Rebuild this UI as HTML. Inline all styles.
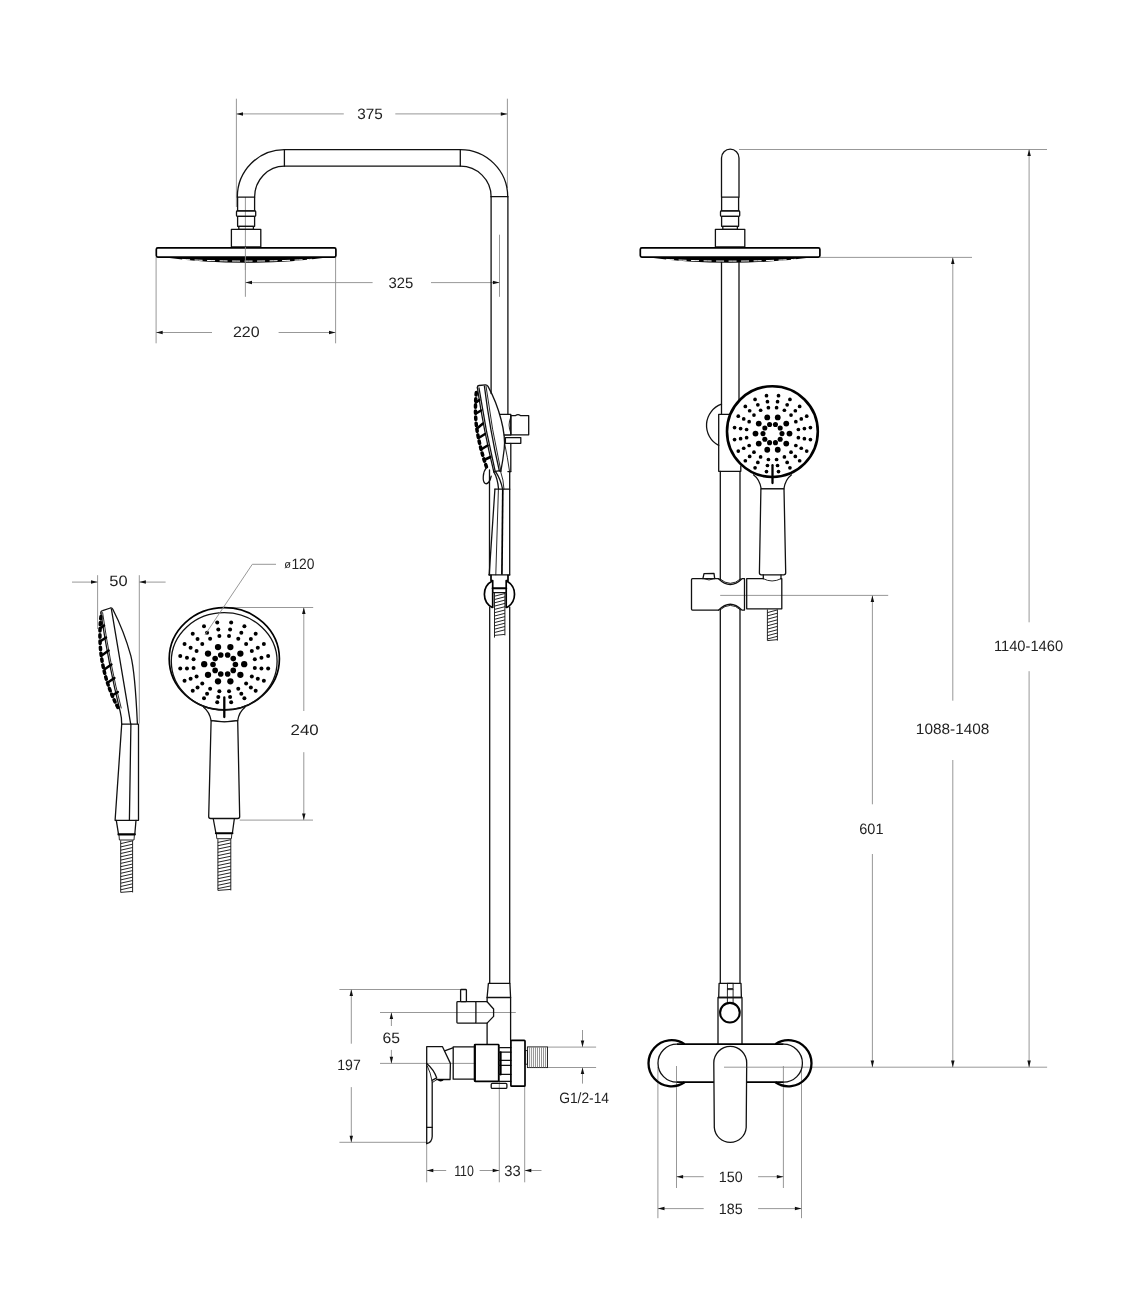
<!DOCTYPE html>
<html><head><meta charset="utf-8"><title>Shower column dimensions</title>
<style>
html,body{margin:0;padding:0;background:#fff}
svg{display:block;will-change:transform;transform:translateZ(0)}
text{font-family:"Liberation Sans",sans-serif;font-size:15px;fill:#222;text-rendering:geometricPrecision}
.o{fill:none;stroke:#111;stroke-width:1.3;stroke-linejoin:round;stroke-linecap:round}
.w{fill:#fff;stroke:#111;stroke-width:1.3;stroke-linejoin:round}
.k{fill:none;stroke:#000;stroke-width:2.1;stroke-linejoin:round;stroke-linecap:round}
.kw{fill:#fff;stroke:#000;stroke-width:2.1;stroke-linejoin:round}
.n{fill:none;stroke:#111;stroke-width:0.9;stroke-linecap:round}
.h{fill:none;stroke:#1a1a1a;stroke-width:0.95}
.d{fill:none;stroke:#8c8c8c;stroke-width:0.9}
.a{fill:#111;stroke:none}
.p{fill:#000;stroke:none}
.hd{fill:#fff;stroke:#000;stroke-width:2.6}
.bar{fill:none;stroke:#000;stroke-width:2.3;stroke-linecap:round}
.k2{fill:none;stroke:#000;stroke-width:2.3;stroke-linecap:butt}
.nz{fill:none;stroke:#fff;stroke-width:1;stroke-dasharray:8 4.5;stroke-dashoffset:-2;stroke-linecap:butt}
.mw{fill:#fff;stroke:#000;stroke-width:1.7;stroke-linejoin:round}
.nb{fill:none;stroke:#000;stroke-width:3.5;stroke-dasharray:2.4 3.7;stroke-linecap:round;stroke-linejoin:round}
.nt{fill:none;stroke:#000;stroke-width:2.5;stroke-linecap:round}
.m{fill:none;stroke:#000;stroke-width:1.7;stroke-linejoin:round}
.th{fill:none;stroke:#777;stroke-width:0.8}
</style></head>
<body>
<svg width="1147" height="1300" viewBox="0 0 1147 1300">
<rect x="0" y="0" width="1147" height="1300" fill="#fff"/>
<line class="d" x1="236.4" y1="98.7" x2="236.4" y2="207"/>
<line class="d" x1="507.4" y1="98.7" x2="507.4" y2="188"/>
<line class="d" x1="236.4" y1="113.9" x2="343.8" y2="113.9"/>
<line class="d" x1="395.3" y1="113.9" x2="507.4" y2="113.9"/>
<polygon class="a" points="236.4,113.9 243,112.15 243,115.65"/>
<polygon class="a" points="507.4,113.9 500.8,112.15 500.8,115.65"/>
<text x="370.03" y="119.2" text-anchor="middle" textLength="25.53" lengthAdjust="spacingAndGlyphs">375</text>
<line class="d" x1="245.4" y1="197" x2="245.4" y2="296.8"/>
<line class="d" x1="499.5" y1="234.7" x2="499.5" y2="296.8"/>
<line class="d" x1="245.4" y1="282.6" x2="372.6" y2="282.6"/>
<line class="d" x1="431" y1="282.6" x2="499.5" y2="282.6"/>
<polygon class="a" points="245.4,282.6 252,280.85 252,284.35"/>
<polygon class="a" points="499.5,282.6 492.9,280.85 492.9,284.35"/>
<text x="400.98" y="287.7" text-anchor="middle" textLength="24.79" lengthAdjust="spacingAndGlyphs">325</text>
<line class="d" x1="156.1" y1="257" x2="156.1" y2="343.3"/>
<line class="d" x1="335.6" y1="257" x2="335.6" y2="343.3"/>
<line class="d" x1="156.1" y1="332.5" x2="212" y2="332.5"/>
<line class="d" x1="278.6" y1="332.5" x2="335.6" y2="332.5"/>
<polygon class="a" points="156.1,332.5 162.7,330.75 162.7,334.25"/>
<polygon class="a" points="335.6,332.5 329,330.75 329,334.25"/>
<text x="246.31" y="336.9" text-anchor="middle" textLength="26.73" lengthAdjust="spacingAndGlyphs">220</text>
<path class="o" d="M237.3 197.2 A47.1 47.6 0 0 1 284.4 149.6 L460.3 149.6 A47.4 47.1 0 0 1 507.7 196.7"/>
<path class="o" d="M254.6 197.2 A29.8 31 0 0 1 284.4 166.2 L460.3 166.2 A30.8 30.5 0 0 1 491.1 196.7"/>
<line class="o" x1="284.4" y1="149.6" x2="284.4" y2="166.2"/>
<line class="o" x1="460.3" y1="149.6" x2="460.3" y2="166.2"/>
<line class="o" x1="491.1" y1="196.7" x2="507.7" y2="196.7"/>
<rect class="o" x="237.6" y="197.2" width="17" height="13.7"/>
<rect class="o" x="236.5" y="210.9" width="19.2" height="5.5" rx="0.8"/>
<rect class="o" x="237.6" y="216.4" width="17" height="9.9"/>
<rect class="o" x="238.8" y="226.3" width="14.6" height="3"/>
<rect class="o" x="231.4" y="229.3" width="29.4" height="17.7"/>
<path class="p" d="M163.1 257.2 Q246.1 268.4 329.1 257.2 Z"/>
<path class="nz" d="M180.1 259.3 Q246.1 262.9 312.1 259.3"/>
<rect class="mw" x="156.3" y="247.9" width="179.6" height="9.2" rx="1.5"/>
<line class="d" x1="245.4" y1="247" x2="245.4" y2="270"/>
<line class="o" x1="491.1" y1="196.7" x2="491.1" y2="393.6"/>
<line class="o" x1="507.9" y1="196.7" x2="507.9" y2="414.3"/>
<path class="o" d="M499.7 414.3 L510.8 414.3 L510.8 435 L504.2 435"/>
<path class="n" d="M510.8 417 Q507.2 425 510.8 433"/>
<path class="o" d="M510.8 415.6 L515.6 415.6 Q518 413.6 520.4 415.6 L528.7 415.6 L528.7 434.8 L510.8 434.8 Z"/>
<rect class="o" x="505.4" y="437.6" width="15.4" height="5.7"/>
<line class="o" x1="510.8" y1="443.3" x2="510.8" y2="471.6"/>
<path class="n" d="M504.6 443.3 Q507.5 457 509.6 471.6"/>
<line class="o" x1="507.9" y1="471.6" x2="510.8" y2="471.6"/>
<path class="o" d="M477.3 387.6 Q477.2 385.7 479 385.5 L485.4 384.9 Q487 384.8 488 386.4 Q496.6 402 501.2 420 Q505.6 437 504.2 449 Q503 460 500.8 471.3"/>
<path class="o" d="M477.4 388 Q483.6 430 493.8 471.8"/>
<path class="o" d="M479 388 Q485.4 430 495.3 471.8"/>
<path class="o" d="M484.4 386.2 Q489.8 430 499.4 471.2"/>
<path class="n" d="M486 386 Q491.8 430 500.9 471.2"/>
<path class="nb" d="M476.3 392.6 C475 405 475.3 418 476.7 428 C478.6 441 482.2 455 486.8 467.8"/>
<line class="nt" x1="476" y1="402.5" x2="479.3" y2="400"/>
<line class="nt" x1="476" y1="413.5" x2="481" y2="410.5"/>
<line class="nt" x1="477" y1="428.5" x2="483" y2="423.5"/>
<line class="nt" x1="478.6" y1="438" x2="485" y2="434"/>
<line class="nt" x1="481" y1="449.5" x2="487.6" y2="445.5"/>
<line class="nt" x1="484" y1="460" x2="490.4" y2="457"/>
<path class="o" d="M486.6 467.4 C482.6 472 482.2 481.6 485.2 483.5 C487.8 484.8 490.4 480.6 491.2 476.2"/>
<path class="o" d="M493.8 471.6 L500.2 470.6"/>
<path class="o" d="M493.8 471.8 Q497.6 478 498.6 489.2"/>
<path class="o" d="M495.6 471.6 Q500.6 479 502.6 489.2"/>
<path class="n" d="M500.6 471.4 Q503.6 480 504 489.2"/>
<line class="o" x1="494.9" y1="489.2" x2="509.7" y2="489.2"/>
<line class="o" x1="489.5" y1="470" x2="489.5" y2="575"/>
<line class="o" x1="509.7" y1="471.6" x2="509.7" y2="575"/>
<line class="o" x1="494.9" y1="489.2" x2="489.2" y2="574.8"/>
<line class="n" x1="498.4" y1="489.2" x2="495.8" y2="574.8"/>
<path class="m" d="M502.8 489.2 L501.9 574.8"/>
<line class="o" x1="488.8" y1="574.8" x2="509.7" y2="574.8"/>
<path class="m" d="M492.7 580.7 A15.2 15.2 0 0 0 492.7 607.8 M506.2 580.7 A15.2 15.2 0 0 1 506.2 607.8"/>
<path class="m" d="M491 574.8 L491 580.6 L492.7 580.6 L492.7 608 M508 574.8 L508 580.6 L506.2 580.6 L506.2 608"/>
<line class="k" x1="492.7" y1="588.3" x2="506.2" y2="588.3"/>
<line class="o" x1="492.7" y1="592.6" x2="506.2" y2="592.6"/>
<line class="h" x1="494.5" y1="593" x2="494.5" y2="635.4"/>
<line class="h" x1="504.9" y1="593" x2="504.9" y2="635.4"/>
<line class="h" x1="494.5" y1="596.2" x2="504.9" y2="593.5"/>
<line class="h" x1="494.5" y1="599.5" x2="504.9" y2="596.8"/>
<line class="h" x1="494.5" y1="602.8" x2="504.9" y2="600.1"/>
<line class="h" x1="494.5" y1="606.1" x2="504.9" y2="603.4"/>
<line class="h" x1="494.5" y1="609.4" x2="504.9" y2="606.7"/>
<line class="h" x1="494.5" y1="612.7" x2="504.9" y2="610"/>
<line class="h" x1="494.5" y1="616" x2="504.9" y2="613.3"/>
<line class="h" x1="494.5" y1="619.3" x2="504.9" y2="616.6"/>
<line class="h" x1="494.5" y1="622.6" x2="504.9" y2="619.9"/>
<line class="h" x1="494.5" y1="625.9" x2="504.9" y2="623.2"/>
<line class="h" x1="494.5" y1="629.2" x2="504.9" y2="626.5"/>
<line class="h" x1="494.5" y1="632.5" x2="504.9" y2="629.8"/>
<line class="h" x1="494.5" y1="635.4" x2="504.9" y2="634.4"/>
<line class="h" x1="494.5" y1="635" x2="494.5" y2="637.6"/>
<line class="o" x1="489.7" y1="607" x2="489.7" y2="983.3"/>
<line class="o" x1="509.7" y1="607" x2="509.7" y2="983.3"/>
<line class="d" x1="339.4" y1="989.5" x2="460.6" y2="989.5"/>
<line class="d" x1="339.4" y1="1142.3" x2="426.7" y2="1142.3"/>
<line class="d" x1="351.3" y1="989.5" x2="351.3" y2="1043.7"/>
<line class="d" x1="351.3" y1="1087.1" x2="351.3" y2="1142.3"/>
<polygon class="a" points="351.3,989.5 349.55,996.1 353.05,996.1"/>
<polygon class="a" points="351.3,1142.3 349.55,1135.7 353.05,1135.7"/>
<text x="349.02" y="1070.3" text-anchor="middle" textLength="23.48" lengthAdjust="spacingAndGlyphs">197</text>
<line class="d" x1="380" y1="1012.5" x2="515.8" y2="1012.5"/>
<line class="d" x1="380" y1="1063.4" x2="476" y2="1063.4"/>
<line class="d" x1="391.4" y1="1012.5" x2="391.4" y2="1026"/>
<polygon class="a" points="391.4,1012.5 389.65,1019.1 393.15,1019.1"/>
<line class="d" x1="391.4" y1="1049.9" x2="391.4" y2="1063.4"/>
<polygon class="a" points="391.4,1063.4 389.65,1056.8 393.15,1056.8"/>
<text x="391.18" y="1043.4" text-anchor="middle" textLength="17.46" lengthAdjust="spacingAndGlyphs">65</text>
<line class="d" x1="426.7" y1="1143.5" x2="426.7" y2="1182.3"/>
<line class="d" x1="499.3" y1="1045" x2="499.3" y2="1182.3"/>
<line class="d" x1="524.7" y1="1086.2" x2="524.7" y2="1182.3"/>
<line class="d" x1="426.7" y1="1170.5" x2="446.2" y2="1170.5"/>
<polygon class="a" points="426.7,1170.5 433.3,1168.75 433.3,1172.25"/>
<line class="d" x1="479.6" y1="1170.5" x2="499.3" y2="1170.5"/>
<polygon class="a" points="499.3,1170.5 492.7,1168.75 492.7,1172.25"/>
<text x="464.03" y="1175.9" text-anchor="middle" textLength="19.77" lengthAdjust="spacingAndGlyphs">110</text>
<text x="512.49" y="1175.9" text-anchor="middle" textLength="16.41" lengthAdjust="spacingAndGlyphs">33</text>
<line class="d" x1="524.7" y1="1170.5" x2="541.5" y2="1170.5"/>
<polygon class="a" points="524.7,1170.5 531.3,1168.75 531.3,1172.25"/>
<line class="d" x1="547.5" y1="1047.1" x2="596.1" y2="1047.1"/>
<line class="d" x1="547.5" y1="1067.5" x2="596.1" y2="1067.5"/>
<line class="d" x1="582.5" y1="1030" x2="582.5" y2="1047.1"/>
<polygon class="a" points="582.5,1047.1 580.75,1040.5 584.25,1040.5"/>
<line class="d" x1="582.5" y1="1067.5" x2="582.5" y2="1083.6"/>
<polygon class="a" points="582.5,1067.5 580.75,1074.1 584.25,1074.1"/>
<text x="584.11" y="1102.6" text-anchor="middle" textLength="49.9" lengthAdjust="spacingAndGlyphs">G1/2-14</text>
<path class="o" d="M488.4 983.3 L509.9 983.3 L510.6 997.5 L487.1 997.5 Z"/>
<path class="o" d="M487.1 997.5 L487.1 1001.7 M487.1 1023.1 L487.1 1044.4 M510.6 997.5 L510.6 1040.4"/>
<rect class="o" x="456.9" y="1001.7" width="19" height="21.4" rx="0.8"/>
<path class="o" d="M475.9 1001.7 L487.1 1001.7 L493.6 1009 L493.6 1016.4 L487.1 1023.1 L475.9 1023.1"/>
<rect class="o" x="460.6" y="989.5" width="5.8" height="12.2" rx="0.8"/>
<rect class="m" x="474.6" y="1044.5" width="24.1" height="36.8" rx="0.6"/>
<rect class="o" x="453.2" y="1046.9" width="21.4" height="32.3"/>
<line class="m" x1="475" y1="1045" x2="475" y2="1081"/>
<line class="o" x1="498.7" y1="1047.6" x2="510.9" y2="1047.6"/>
<line class="o" x1="498.7" y1="1052.2" x2="510.9" y2="1052.2"/>
<line class="o" x1="498.7" y1="1060.4" x2="510.9" y2="1060.4"/>
<line class="o" x1="498.7" y1="1065.4" x2="510.9" y2="1065.4"/>
<line class="o" x1="498.7" y1="1074.4" x2="510.9" y2="1074.4"/>
<line class="k" x1="500.6" y1="1052.2" x2="500.6" y2="1074.4"/>
<line class="o" x1="498.7" y1="1081.3" x2="510.9" y2="1081.3"/>
<rect class="m" x="510.9" y="1040.4" width="14.1" height="45.8" rx="0.8"/>
<rect class="n" x="525" y="1050.6" width="2.4" height="13.6"/>
<rect class="n" x="527.4" y="1046.9" width="20.1" height="20.7"/>
<line class="th" x1="529.4" y1="1047.2" x2="529.4" y2="1067.4"/>
<line class="th" x1="531.42" y1="1047.2" x2="531.42" y2="1067.4"/>
<line class="th" x1="533.44" y1="1047.2" x2="533.44" y2="1067.4"/>
<line class="th" x1="535.46" y1="1047.2" x2="535.46" y2="1067.4"/>
<line class="th" x1="537.48" y1="1047.2" x2="537.48" y2="1067.4"/>
<line class="th" x1="539.5" y1="1047.2" x2="539.5" y2="1067.4"/>
<line class="th" x1="541.52" y1="1047.2" x2="541.52" y2="1067.4"/>
<line class="th" x1="543.54" y1="1047.2" x2="543.54" y2="1067.4"/>
<line class="th" x1="545.56" y1="1047.2" x2="545.56" y2="1067.4"/>
<rect class="o" x="491.2" y="1083.3" width="15.7" height="5.1" rx="1.2"/>
<path class="o" d="M426.7 1143.5 L426.7 1046.7 L442.5 1046.7 L450.4 1063.4 L450.1 1079.5 L436.7 1079.5"/>
<path class="o" d="M444.6 1050.9 L452.8 1047.8"/>
<path class="o" d="M426.7 1063.4 Q434 1069.6 436.7 1077.9 L432 1080.3 Q432.2 1081.4 432.2 1083 L432.2 1136.4 Q432 1142.4 426.7 1143.5"/>
<path class="n" d="M427.3 1066 Q430.8 1073 431.9 1080.4"/>
<path class="n" d="M436.7 1079.6 L432.6 1082.4"/>
<path class="p" d="M437 1079.2 Q440.6 1083.6 444.4 1079.2 Z"/>
<line class="o" x1="426.7" y1="1127.4" x2="432.2" y2="1127.4"/>
<line class="d" x1="739" y1="149.5" x2="1047" y2="149.5"/>
<line class="d" x1="819.8" y1="257.4" x2="972" y2="257.4"/>
<line class="d" x1="724" y1="1067.2" x2="1047.1" y2="1067.2"/>
<line class="d" x1="720.2" y1="595.4" x2="888.2" y2="595.4"/>
<line class="d" x1="872.4" y1="595.4" x2="872.4" y2="804.3"/>
<line class="d" x1="872.4" y1="854" x2="872.4" y2="1067.2"/>
<polygon class="a" points="872.4,595.4 870.65,602 874.15,602"/>
<polygon class="a" points="872.4,1067.2 870.65,1060.6 874.15,1060.6"/>
<text x="871.39" y="834.3" text-anchor="middle" textLength="24.14" lengthAdjust="spacingAndGlyphs">601</text>
<line class="d" x1="952.8" y1="257.4" x2="952.8" y2="700.7"/>
<line class="d" x1="952.8" y1="760" x2="952.8" y2="1067.2"/>
<polygon class="a" points="952.8,257.4 951.05,264 954.55,264"/>
<polygon class="a" points="952.8,1067.2 951.05,1060.6 954.55,1060.6"/>
<text x="952.65" y="733.9" text-anchor="middle" textLength="73.54" lengthAdjust="spacingAndGlyphs">1088-1408</text>
<line class="d" x1="1029.1" y1="149.5" x2="1029.1" y2="622.3"/>
<line class="d" x1="1029.1" y1="671.2" x2="1029.1" y2="1067.2"/>
<polygon class="a" points="1029.1,149.5 1027.35,156.1 1030.85,156.1"/>
<polygon class="a" points="1029.1,1067.2 1027.35,1060.6 1030.85,1060.6"/>
<text x="1028.53" y="651.3" text-anchor="middle" textLength="69.17" lengthAdjust="spacingAndGlyphs">1140-1460</text>
<line class="d" x1="676.5" y1="1066" x2="676.5" y2="1188"/>
<line class="d" x1="783.4" y1="1066" x2="783.4" y2="1188"/>
<line class="d" x1="657.9" y1="1067" x2="657.9" y2="1218.2"/>
<line class="d" x1="801.5" y1="1067" x2="801.5" y2="1218.2"/>
<line class="d" x1="676.5" y1="1176.7" x2="703.7" y2="1176.7"/>
<line class="d" x1="758.1" y1="1176.7" x2="783.4" y2="1176.7"/>
<polygon class="a" points="676.5,1176.7 683.1,1174.95 683.1,1178.45"/>
<polygon class="a" points="783.4,1176.7 776.8,1174.95 776.8,1178.45"/>
<text x="730.68" y="1182.15" text-anchor="middle" textLength="23.85" lengthAdjust="spacingAndGlyphs">150</text>
<line class="d" x1="657.9" y1="1208.6" x2="703.7" y2="1208.6"/>
<line class="d" x1="758.1" y1="1208.6" x2="801.5" y2="1208.6"/>
<polygon class="a" points="657.9,1208.6 664.5,1206.85 664.5,1210.35"/>
<polygon class="a" points="801.5,1208.6 794.9,1206.85 794.9,1210.35"/>
<text x="730.71" y="1213.7" text-anchor="middle" textLength="23.89" lengthAdjust="spacingAndGlyphs">185</text>
<path class="o" d="M721.5 197.2 L721.5 157.9 A8.75 8.75 0 0 1 739 157.9 L739 197.2"/>
<rect class="o" x="721.6" y="197.2" width="17" height="13.7"/>
<rect class="o" x="720.5" y="210.9" width="19.2" height="5.5" rx="0.8"/>
<rect class="o" x="721.6" y="216.4" width="17" height="9.9"/>
<rect class="o" x="722.8" y="226.3" width="14.6" height="3"/>
<rect class="o" x="715.4" y="229.3" width="29.4" height="17.7"/>
<path class="p" d="M647.1 257.2 Q730.1 268.4 813.1 257.2 Z"/>
<path class="nz" d="M664.1 259.3 Q730.1 262.9 796.1 259.3"/>
<rect class="mw" x="640.3" y="247.9" width="179.6" height="9.2" rx="1.5"/>
<line class="o" x1="721.5" y1="262.5" x2="721.5" y2="414.3"/>
<line class="o" x1="739" y1="262.5" x2="739" y2="414.3"/>
<path class="o" d="M721.5 404.2 A22.5 22.5 0 0 0 718.7 445.4"/>
<path class="o" d="M740.8 414.3 L718.7 414.3 L718.7 471.3 L740.8 471.3 L740.8 466"/>
<line class="o" x1="720.3" y1="471.3" x2="720.3" y2="579.5"/>
<line class="o" x1="740" y1="471.3" x2="740" y2="579.5"/>
<line class="o" x1="720.3" y1="609.5" x2="720.3" y2="983.3"/>
<line class="o" x1="740" y1="609.5" x2="740" y2="983.3"/>
<path class="w" d="M753.2 474.6 Q759.8 479.6 761.2 488.9 L783.9 488.9 Q785.2 479.6 791.8 474.6"/>
<path class="w" d="M760.9 488.9 L784 488.9 L785.7 572.8 Q785.7 574.8 783.7 574.8 L761.4 574.8 Q759.4 574.8 759.4 572.8 Z"/>
<circle class="hd" cx="772.4" cy="431.6" r="45.4"/>
<circle class="p" cx="782" cy="433.6" r="2.55"/>
<circle class="p" cx="780.19" cy="428.02" r="2.55"/>
<circle class="p" cx="775.44" cy="424.56" r="2.55"/>
<circle class="p" cx="769.56" cy="424.56" r="2.55"/>
<circle class="p" cx="764.81" cy="428.02" r="2.55"/>
<circle class="p" cx="763" cy="433.6" r="2.55"/>
<circle class="p" cx="764.81" cy="439.18" r="2.55"/>
<circle class="p" cx="769.56" cy="442.64" r="2.55"/>
<circle class="p" cx="775.44" cy="442.64" r="2.55"/>
<circle class="p" cx="780.19" cy="439.18" r="2.55"/>
<circle class="p" cx="789.5" cy="433.6" r="2.9"/>
<circle class="p" cx="786.25" cy="423.61" r="2.9"/>
<circle class="p" cx="777.75" cy="417.43" r="2.9"/>
<circle class="p" cx="767.25" cy="417.43" r="2.9"/>
<circle class="p" cx="758.75" cy="423.61" r="2.9"/>
<circle class="p" cx="755.5" cy="433.6" r="2.9"/>
<circle class="p" cx="758.75" cy="443.59" r="2.9"/>
<circle class="p" cx="767.25" cy="449.77" r="2.9"/>
<circle class="p" cx="777.75" cy="449.77" r="2.9"/>
<circle class="p" cx="786.25" cy="443.59" r="2.9"/>
<circle class="p" cx="798.38" cy="429.5" r="1.85"/>
<circle class="p" cx="795.84" cy="421.71" r="1.85"/>
<circle class="p" cx="791.03" cy="415.07" r="1.85"/>
<circle class="p" cx="784.39" cy="410.26" r="1.85"/>
<circle class="p" cx="776.6" cy="407.72" r="1.85"/>
<circle class="p" cx="768.4" cy="407.72" r="1.85"/>
<circle class="p" cx="760.61" cy="410.26" r="1.85"/>
<circle class="p" cx="753.97" cy="415.07" r="1.85"/>
<circle class="p" cx="749.16" cy="421.71" r="1.85"/>
<circle class="p" cx="746.62" cy="429.5" r="1.85"/>
<circle class="p" cx="746.62" cy="437.7" r="1.85"/>
<circle class="p" cx="749.16" cy="445.49" r="1.85"/>
<circle class="p" cx="753.97" cy="452.13" r="1.85"/>
<circle class="p" cx="760.61" cy="456.94" r="1.85"/>
<circle class="p" cx="768.4" cy="459.48" r="1.85"/>
<circle class="p" cx="776.6" cy="459.48" r="1.85"/>
<circle class="p" cx="784.39" cy="456.94" r="1.85"/>
<circle class="p" cx="791.03" cy="452.13" r="1.85"/>
<circle class="p" cx="795.84" cy="445.49" r="1.85"/>
<circle class="p" cx="798.38" cy="437.7" r="1.85"/>
<circle class="p" cx="804.4" cy="428.55" r="1.85"/>
<circle class="p" cx="801.28" cy="418.94" r="1.85"/>
<circle class="p" cx="795.34" cy="410.76" r="1.85"/>
<circle class="p" cx="787.16" cy="404.82" r="1.85"/>
<circle class="p" cx="777.55" cy="401.7" r="1.85"/>
<circle class="p" cx="767.45" cy="401.7" r="1.85"/>
<circle class="p" cx="757.84" cy="404.82" r="1.85"/>
<circle class="p" cx="749.66" cy="410.76" r="1.85"/>
<circle class="p" cx="743.72" cy="418.94" r="1.85"/>
<circle class="p" cx="740.6" cy="428.55" r="1.85"/>
<circle class="p" cx="740.6" cy="438.65" r="1.85"/>
<circle class="p" cx="743.72" cy="448.26" r="1.85"/>
<circle class="p" cx="749.66" cy="456.44" r="1.85"/>
<circle class="p" cx="757.84" cy="462.38" r="1.85"/>
<circle class="p" cx="767.45" cy="465.5" r="1.85"/>
<circle class="p" cx="777.55" cy="465.5" r="1.85"/>
<circle class="p" cx="787.16" cy="462.38" r="1.85"/>
<circle class="p" cx="795.34" cy="456.44" r="1.85"/>
<circle class="p" cx="801.28" cy="448.26" r="1.85"/>
<circle class="p" cx="804.4" cy="438.65" r="1.85"/>
<circle class="p" cx="810.43" cy="427.59" r="1.85"/>
<circle class="p" cx="806.71" cy="416.17" r="1.85"/>
<circle class="p" cx="799.65" cy="406.45" r="1.85"/>
<circle class="p" cx="789.93" cy="399.39" r="1.85"/>
<circle class="p" cx="778.51" cy="395.67" r="1.85"/>
<circle class="p" cx="766.49" cy="395.67" r="1.85"/>
<circle class="p" cx="755.07" cy="399.39" r="1.85"/>
<circle class="p" cx="745.35" cy="406.45" r="1.85"/>
<circle class="p" cx="738.29" cy="416.17" r="1.85"/>
<circle class="p" cx="734.57" cy="427.59" r="1.85"/>
<circle class="p" cx="734.57" cy="439.61" r="1.85"/>
<circle class="p" cx="738.29" cy="451.03" r="1.85"/>
<circle class="p" cx="745.35" cy="460.75" r="1.85"/>
<circle class="p" cx="755.07" cy="467.81" r="1.85"/>
<circle class="p" cx="766.49" cy="471.53" r="1.85"/>
<circle class="p" cx="778.51" cy="471.53" r="1.85"/>
<circle class="p" cx="789.93" cy="467.81" r="1.85"/>
<circle class="p" cx="799.65" cy="460.75" r="1.85"/>
<circle class="p" cx="806.71" cy="451.03" r="1.85"/>
<circle class="p" cx="810.43" cy="439.61" r="1.85"/>
<line class="bar" x1="772.5" y1="465.2" x2="772.5" y2="483"/>
<path class="o" d="M763.3 574.8 L763.3 578.7 M781 574.8 L781 578.7"/>
<path class="n" d="M763.3 578.7 Q772 583.4 781 578.7"/>
<path class="o" d="M702.9 578.7 L704 573.6 L714 573.4 L714.7 578.7"/>
<path class="n" d="M703.6 578.7 Q709 581.4 714.4 578.7"/>
<path class="o" d="M718.5 578.7 L692.5 578.7 Q691.5 578.7 691.5 579.7 L691.5 609.1 Q691.5 610.1 692.5 610.1 L718.5 610.1"/>
<path class="o" d="M718.5 578.7 Q730.3 590.2 742 578.7 L744.5 578.7 L744.5 610.1 L742 610.1 Q730.3 598.4 718.5 610.1"/>
<path class="n" d="M720 578.9 Q730.3 588 740.6 578.9 M720 609.9 Q730.3 600.6 740.6 609.9"/>
<path class="o" d="M763.3 578.7 L746.7 578.7 L746.7 608.8 L781.8 608.8 L781.8 578.7 L781 578.7"/>
<line class="h" x1="767.4" y1="609.4" x2="767.4" y2="640.6"/>
<line class="h" x1="777.4" y1="609.4" x2="777.4" y2="640.6"/>
<line class="h" x1="767.4" y1="612.6" x2="777.4" y2="609.9"/>
<line class="h" x1="767.4" y1="615.9" x2="777.4" y2="613.2"/>
<line class="h" x1="767.4" y1="619.2" x2="777.4" y2="616.5"/>
<line class="h" x1="767.4" y1="622.5" x2="777.4" y2="619.8"/>
<line class="h" x1="767.4" y1="625.8" x2="777.4" y2="623.1"/>
<line class="h" x1="767.4" y1="629.1" x2="777.4" y2="626.4"/>
<line class="h" x1="767.4" y1="632.4" x2="777.4" y2="629.7"/>
<line class="h" x1="767.4" y1="635.7" x2="777.4" y2="633"/>
<line class="h" x1="767.4" y1="639" x2="777.4" y2="636.3"/>
<line class="h" x1="767.4" y1="640.6" x2="777.4" y2="639.6"/>
<path class="o" d="M719.1 983.3 L741 983.3 L741.4 997.5 L718.7 997.5 Z"/>
<rect class="n" x="727.4" y="983.3" width="5.7" height="5.3"/>
<path class="n" d="M727.4 989.6 L727.4 1003 M733.1 989.6 L733.1 1003 M727.4 989.6 L733.1 989.6"/>
<path class="o" d="M718 997.5 L718 1044.1 M742 997.5 L742 1044.1 M718 997.5 L742 997.5"/>
<circle class="kw" cx="729.9" cy="1012.7" r="9.8"/>
<path class="k2" d="M684.6 1044.1 A23.1 23.1 0 1 0 684.6 1082.3"/>
<path class="k2" d="M775.4 1044.1 A23.1 23.1 0 1 1 775.4 1082.3"/>
<path class="m" d="M677 1044.1 L783.4 1044.1 M677 1082.2 L783.4 1082.2"/>
<path class="o" d="M677 1044.1 A19.05 19.05 0 0 0 677 1082.2 M783.4 1044.1 A19.05 19.05 0 0 1 783.4 1082.2"/>
<path class="w" d="M713.8 1063 A16.45 16.6 0 0 1 746.7 1063 L746.2 1127.5 A16 16.2 0 0 1 714.3 1127.5 Z"/>
<line class="d" x1="724" y1="1067.2" x2="746.4" y2="1067.2"/>
<line class="d" x1="97.6" y1="575.2" x2="97.6" y2="629"/>
<line class="d" x1="139.3" y1="575.2" x2="139.3" y2="723.7"/>
<line class="d" x1="72" y1="582.1" x2="97.6" y2="582.1"/>
<polygon class="a" points="97.6,582.1 91,580.35 91,583.85"/>
<line class="d" x1="139.3" y1="582.1" x2="165.6" y2="582.1"/>
<polygon class="a" points="139.3,582.1 145.9,580.35 145.9,583.85"/>
<text x="118.44" y="586.1" text-anchor="middle" textLength="18.3" lengthAdjust="spacingAndGlyphs">50</text>
<line class="d" x1="224" y1="607.5" x2="313.2" y2="607.5"/>
<line class="d" x1="239.7" y1="820.1" x2="313" y2="820.1"/>
<line class="d" x1="303.8" y1="607.5" x2="303.8" y2="711"/>
<line class="d" x1="303.8" y1="752.2" x2="303.8" y2="820.1"/>
<polygon class="a" points="303.8,607.5 302.05,614.1 305.55,614.1"/>
<polygon class="a" points="303.8,820.1 302.05,813.5 305.55,813.5"/>
<text x="304.66" y="734.9" text-anchor="middle" textLength="28.21" lengthAdjust="spacingAndGlyphs">240</text>
<text><tspan x="284.3" y="567.7" text-anchor="start" style="font-size:11px">ø</tspan><tspan x="302.94" y="568.8" text-anchor="middle" textLength="23.1" lengthAdjust="spacingAndGlyphs">120</tspan></text>
<path class="o" d="M101 613 Q100.6 611 102.6 610.6 L110.4 608 Q112 607.6 112.8 609.2 Q124 631 130.8 655.6 Q135 672 137.4 723.8"/>
<path class="o" d="M100.9 613 Q108.6 665 120.2 711.6 Q121.8 718 121.7 724.2"/>
<path class="n" d="M102.6 612.6 Q110 665 121.2 708"/>
<path class="o" d="M111.4 609.2 Q120.8 665 130.7 724.2"/>
<path class="nb" d="M101 616.5 C99.4 630 99.6 645 101.6 658 C104 674 109.6 693 119.6 710.6"/>
<line class="nt" x1="100.6" y1="628" x2="104" y2="625.5"/>
<line class="nt" x1="100.8" y1="641" x2="106" y2="637.5"/>
<line class="nt" x1="102.4" y1="655" x2="108.6" y2="650.5"/>
<line class="nt" x1="105" y1="669" x2="111.4" y2="664.5"/>
<line class="nt" x1="108.6" y1="682" x2="114.4" y2="678"/>
<line class="nt" x1="113" y1="695" x2="117.8" y2="692"/>
<line class="o" x1="121.7" y1="724.2" x2="137.5" y2="724.2"/>
<path class="o" d="M121.7 724.2 L115.1 820.3 L138.5 820.3 L138.5 724.2"/>
<line class="o" x1="130.9" y1="724.2" x2="129.4" y2="820.3"/>
<path class="o" d="M116.3 820.3 L118.5 834.2 M136 820.3 L134.8 834.2"/>
<line class="k" x1="118.5" y1="834.4" x2="134.8" y2="834.4"/>
<path class="n" d="M119 835 L119.4 840 L134 840 L134.4 835"/>
<line class="h" x1="120.7" y1="840.4" x2="120.7" y2="892.4"/>
<line class="h" x1="132.6" y1="840.4" x2="132.6" y2="892.4"/>
<line class="h" x1="120.7" y1="843.6" x2="132.6" y2="840.9"/>
<line class="h" x1="120.7" y1="846.9" x2="132.6" y2="844.2"/>
<line class="h" x1="120.7" y1="850.2" x2="132.6" y2="847.5"/>
<line class="h" x1="120.7" y1="853.5" x2="132.6" y2="850.8"/>
<line class="h" x1="120.7" y1="856.8" x2="132.6" y2="854.1"/>
<line class="h" x1="120.7" y1="860.1" x2="132.6" y2="857.4"/>
<line class="h" x1="120.7" y1="863.4" x2="132.6" y2="860.7"/>
<line class="h" x1="120.7" y1="866.7" x2="132.6" y2="864"/>
<line class="h" x1="120.7" y1="870" x2="132.6" y2="867.3"/>
<line class="h" x1="120.7" y1="873.3" x2="132.6" y2="870.6"/>
<line class="h" x1="120.7" y1="876.6" x2="132.6" y2="873.9"/>
<line class="h" x1="120.7" y1="879.9" x2="132.6" y2="877.2"/>
<line class="h" x1="120.7" y1="883.2" x2="132.6" y2="880.5"/>
<line class="h" x1="120.7" y1="886.5" x2="132.6" y2="883.8"/>
<line class="h" x1="120.7" y1="889.8" x2="132.6" y2="887.1"/>
<line class="h" x1="120.7" y1="892.4" x2="132.6" y2="891.4"/>
<path class="w" d="M203.3 707 Q209.6 711.8 211.1 720.7 Q224.4 723 237.7 720.7 Q239 711.8 245.3 707"/>
<path class="w" d="M211.1 720.7 Q224.4 723 237.7 720.7 L239.7 816.5 Q239.7 818.5 237.7 818.5 L210.7 818.5 Q208.7 818.5 208.7 816.5 Z"/>
<ellipse class="mw" cx="224.3" cy="658.8" rx="55.1" ry="51.1"/>
<ellipse class="o" cx="224.2" cy="661.3" rx="52.9" ry="48.6"/>
<circle class="p" cx="235.4" cy="664.5" r="2.8"/>
<circle class="p" cx="233.26" cy="658.59" r="2.8"/>
<circle class="p" cx="227.66" cy="654.94" r="2.8"/>
<circle class="p" cx="220.74" cy="654.94" r="2.8"/>
<circle class="p" cx="215.14" cy="658.59" r="2.8"/>
<circle class="p" cx="213" cy="664.5" r="2.8"/>
<circle class="p" cx="215.14" cy="670.41" r="2.8"/>
<circle class="p" cx="220.74" cy="674.06" r="2.8"/>
<circle class="p" cx="227.66" cy="674.06" r="2.8"/>
<circle class="p" cx="233.26" cy="670.41" r="2.8"/>
<circle class="p" cx="244.2" cy="664.2" r="3.15"/>
<circle class="p" cx="240.38" cy="653.62" r="3.15"/>
<circle class="p" cx="230.38" cy="647.08" r="3.15"/>
<circle class="p" cx="218.02" cy="647.08" r="3.15"/>
<circle class="p" cx="208.02" cy="653.62" r="3.15"/>
<circle class="p" cx="204.2" cy="664.2" r="3.15"/>
<circle class="p" cx="208.02" cy="674.78" r="3.15"/>
<circle class="p" cx="218.02" cy="681.32" r="3.15"/>
<circle class="p" cx="230.38" cy="681.32" r="3.15"/>
<circle class="p" cx="240.38" cy="674.78" r="3.15"/>
<circle class="p" cx="254.82" cy="659.32" r="2"/>
<circle class="p" cx="251.82" cy="650.99" r="2"/>
<circle class="p" cx="246.12" cy="643.9" r="2"/>
<circle class="p" cx="238.27" cy="638.75" r="2"/>
<circle class="p" cx="229.05" cy="636.04" r="2"/>
<circle class="p" cx="219.35" cy="636.04" r="2"/>
<circle class="p" cx="210.13" cy="638.75" r="2"/>
<circle class="p" cx="202.28" cy="643.9" r="2"/>
<circle class="p" cx="196.58" cy="650.99" r="2"/>
<circle class="p" cx="193.58" cy="659.32" r="2"/>
<circle class="p" cx="193.58" cy="668.08" r="2"/>
<circle class="p" cx="196.58" cy="676.41" r="2"/>
<circle class="p" cx="202.28" cy="683.5" r="2"/>
<circle class="p" cx="210.13" cy="688.65" r="2"/>
<circle class="p" cx="219.35" cy="691.36" r="2"/>
<circle class="p" cx="229.05" cy="691.36" r="2"/>
<circle class="p" cx="238.27" cy="688.65" r="2"/>
<circle class="p" cx="246.12" cy="683.5" r="2"/>
<circle class="p" cx="251.82" cy="676.41" r="2"/>
<circle class="p" cx="254.82" cy="668.08" r="2"/>
<circle class="p" cx="261.44" cy="657.85" r="2"/>
<circle class="p" cx="257.79" cy="647.67" r="2"/>
<circle class="p" cx="250.86" cy="639.02" r="2"/>
<circle class="p" cx="241.32" cy="632.73" r="2"/>
<circle class="p" cx="230.1" cy="629.42" r="2"/>
<circle class="p" cx="218.3" cy="629.42" r="2"/>
<circle class="p" cx="207.08" cy="632.73" r="2"/>
<circle class="p" cx="197.54" cy="639.02" r="2"/>
<circle class="p" cx="190.61" cy="647.67" r="2"/>
<circle class="p" cx="186.96" cy="657.85" r="2"/>
<circle class="p" cx="186.96" cy="668.55" r="2"/>
<circle class="p" cx="190.61" cy="678.73" r="2"/>
<circle class="p" cx="197.54" cy="687.38" r="2"/>
<circle class="p" cx="207.08" cy="693.67" r="2"/>
<circle class="p" cx="218.3" cy="696.98" r="2"/>
<circle class="p" cx="230.1" cy="696.98" r="2"/>
<circle class="p" cx="241.32" cy="693.67" r="2"/>
<circle class="p" cx="250.86" cy="687.38" r="2"/>
<circle class="p" cx="257.79" cy="678.73" r="2"/>
<circle class="p" cx="261.44" cy="668.55" r="2"/>
<circle class="p" cx="268.15" cy="655.98" r="2"/>
<circle class="p" cx="263.85" cy="643.96" r="2"/>
<circle class="p" cx="255.67" cy="633.73" r="2"/>
<circle class="p" cx="244.4" cy="626.3" r="2"/>
<circle class="p" cx="231.16" cy="622.4" r="2"/>
<circle class="p" cx="217.24" cy="622.4" r="2"/>
<circle class="p" cx="204" cy="626.3" r="2"/>
<circle class="p" cx="192.73" cy="633.73" r="2"/>
<circle class="p" cx="184.55" cy="643.96" r="2"/>
<circle class="p" cx="180.25" cy="655.98" r="2"/>
<circle class="p" cx="180.25" cy="668.62" r="2"/>
<circle class="p" cx="184.55" cy="680.64" r="2"/>
<circle class="p" cx="192.73" cy="690.87" r="2"/>
<circle class="p" cx="204" cy="698.3" r="2"/>
<circle class="p" cx="217.24" cy="702.2" r="2"/>
<circle class="p" cx="231.16" cy="702.2" r="2"/>
<circle class="p" cx="244.4" cy="698.3" r="2"/>
<circle class="p" cx="255.67" cy="690.87" r="2"/>
<circle class="p" cx="263.85" cy="680.64" r="2"/>
<circle class="p" cx="268.15" cy="668.62" r="2"/>
<line class="bar" x1="224.3" y1="697.5" x2="224.3" y2="717"/>
<path class="o" d="M213.3 819 L215.9 833 M234.3 819 L232.4 833"/>
<line class="k" x1="215.9" y1="833.2" x2="232.4" y2="833.2"/>
<path class="n" d="M216.4 834 L216.8 838.7 L231.4 838.7 L231.8 834"/>
<line class="h" x1="217.9" y1="839.2" x2="217.9" y2="890.4"/>
<line class="h" x1="230.8" y1="839.2" x2="230.8" y2="890.4"/>
<line class="h" x1="217.9" y1="842.4" x2="230.8" y2="839.7"/>
<line class="h" x1="217.9" y1="845.7" x2="230.8" y2="843"/>
<line class="h" x1="217.9" y1="849" x2="230.8" y2="846.3"/>
<line class="h" x1="217.9" y1="852.3" x2="230.8" y2="849.6"/>
<line class="h" x1="217.9" y1="855.6" x2="230.8" y2="852.9"/>
<line class="h" x1="217.9" y1="858.9" x2="230.8" y2="856.2"/>
<line class="h" x1="217.9" y1="862.2" x2="230.8" y2="859.5"/>
<line class="h" x1="217.9" y1="865.5" x2="230.8" y2="862.8"/>
<line class="h" x1="217.9" y1="868.8" x2="230.8" y2="866.1"/>
<line class="h" x1="217.9" y1="872.1" x2="230.8" y2="869.4"/>
<line class="h" x1="217.9" y1="875.4" x2="230.8" y2="872.7"/>
<line class="h" x1="217.9" y1="878.7" x2="230.8" y2="876"/>
<line class="h" x1="217.9" y1="882" x2="230.8" y2="879.3"/>
<line class="h" x1="217.9" y1="885.3" x2="230.8" y2="882.6"/>
<line class="h" x1="217.9" y1="888.6" x2="230.8" y2="885.9"/>
<line class="h" x1="217.9" y1="890.4" x2="230.8" y2="889.4"/>
<path class="d" d="M204.9 635 L252.3 564.3 L276 564.3"/>
</svg>
</body></html>
